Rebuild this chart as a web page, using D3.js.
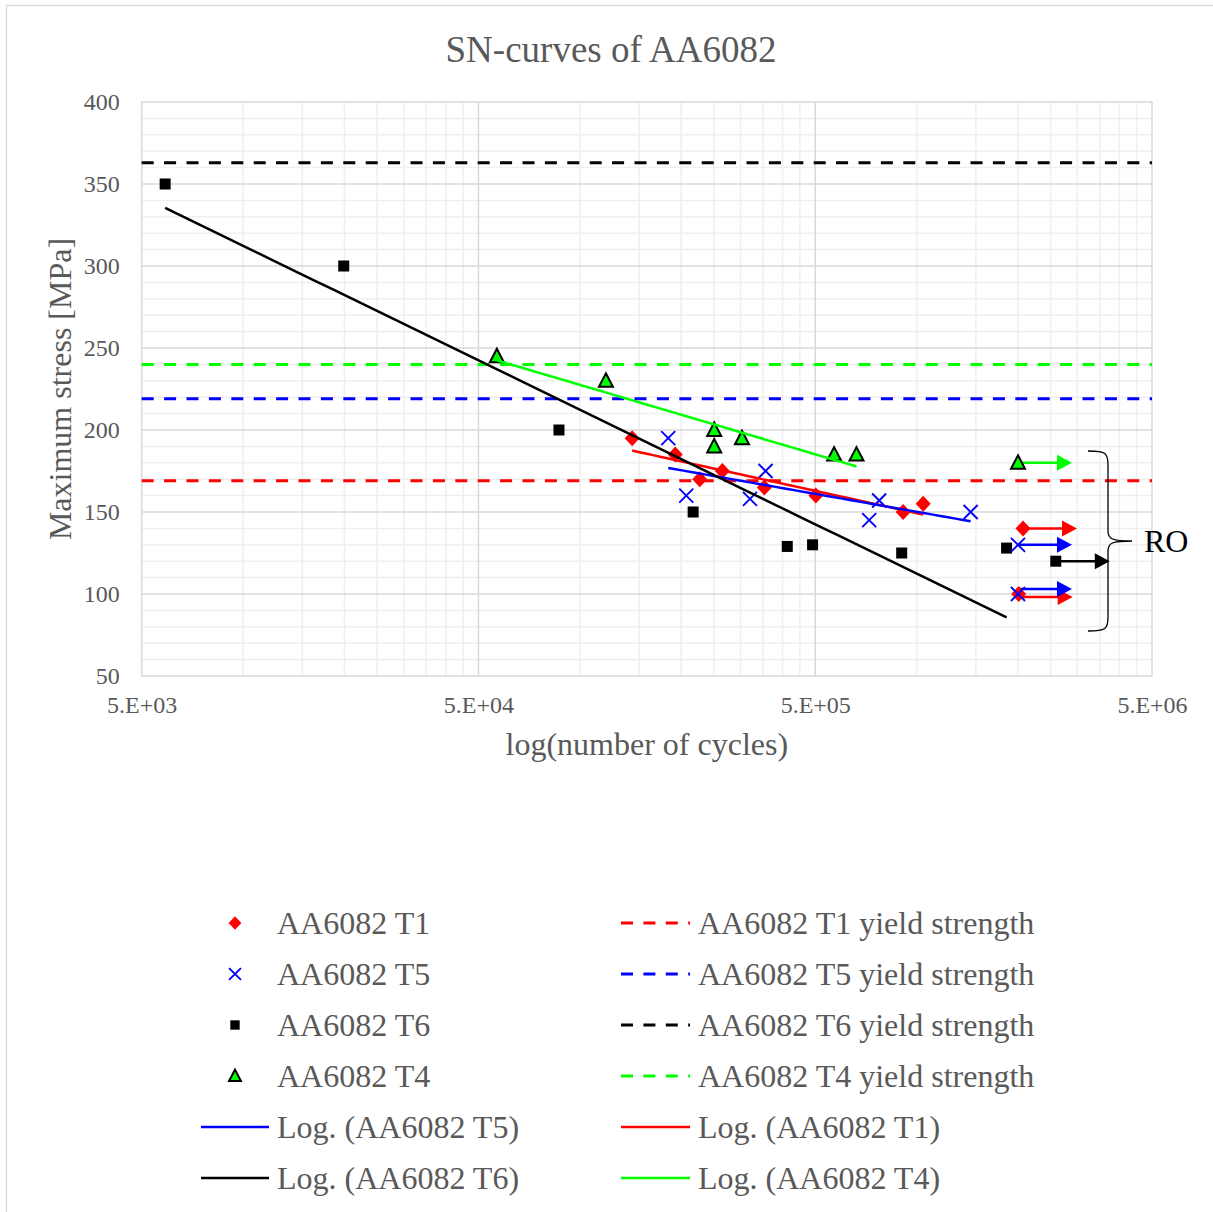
<!DOCTYPE html>
<html>
<head>
<meta charset="utf-8">
<script src="https://cdn.jsdelivr.net/npm/d3@7"></script>
<style>
  body { margin: 0; background: #fff; }
  svg { display: block; }
</style>
</head>
<body>
<script>
// Fatigue results: cycles to failure and maximum stress [MPa]
const t1Cycles = [143000, 192000, 227000, 265000, 353000, 502000, 912000, 1046000];
const t1Stress = [195, 185, 170, 175, 165, 160, 150, 155];
const t5Cycles = [183000, 207000, 320000, 356000, 723000, 774000, 1447000];
const t5Stress = [195, 160, 158, 175, 145, 157, 150];
const t6Cycles = [5870, 19900, 86700, 217000, 413000, 491000, 903000, 1850000];
const t6Stress = [350, 300, 200, 150, 129, 130, 125, 128];
const t4Cycles = [56700, 119500, 250600, 250600, 303000, 569000, 663000];
const t4Stress = [245, 230, 200, 190, 195, 185, 185];

// Run-outs (specimens that did not fail)
const t1RunOutCycles = [2070000, 2010000];
const t1RunOutStress = [140, 100];
const t5RunOutCycles = [2000000, 2000000];
const t5RunOutStress = [130, 100];
const t6RunOutCycles = [2590000];
const t6RunOutStress = [120];
const t4RunOutCycles = [2000000];
const t4RunOutStress = [180];

// Yield strength per temper [MPa]
const tempers = ["T1", "T5", "T6", "T4"];
const yieldStrengths = [169, 219, 363, 240];

// Axis ticks
const xTickValues = [5e3, 5e4, 5e5, 5e6];
const xTickLabels = ["5.E+03", "5.E+04", "5.E+05", "5.E+06"];
const yTickValues = [50, 100, 150, 200, 250, 300, 350, 400];
const runOutLabel = "RO";

const W = 1213, H = 1212;
const FONT = "'Liberation Serif', 'Times New Roman', serif";
const TEXT = "#595959";

const colors = { T1: "#ff0000", T5: "#0000ff", T6: "#000000", T4: "#00ff00" };
const symbols = { T1: "diamond", T5: "cross", T6: "square", T4: "triangle" };
const series = {
  T1: { cycles: t1Cycles, stress: t1Stress, roCycles: t1RunOutCycles, roStress: t1RunOutStress },
  T5: { cycles: t5Cycles, stress: t5Stress, roCycles: t5RunOutCycles, roStress: t5RunOutStress },
  T6: { cycles: t6Cycles, stress: t6Stress, roCycles: t6RunOutCycles, roStress: t6RunOutStress },
  T4: { cycles: t4Cycles, stress: t4Stress, roCycles: t4RunOutCycles, roStress: t4RunOutStress }
};

const plot = { left: 141.7, right: 1152, top: 102, bottom: 676 };
const x = d3.scaleLog().domain([xTickValues[0], xTickValues[xTickValues.length - 1]])
  .range([plot.left, plot.right]);
const y = d3.scaleLinear().domain([yTickValues[0], yTickValues[yTickValues.length - 1]])
  .range([plot.bottom, plot.top]);

const svg = d3.select("body").append("svg").attr("width", W).attr("height", H)
  .style("font-family", FONT);

// chart frame
svg.append("rect").attr("x", 6.5).attr("y", 5.5).attr("width", W + 20).attr("height", H + 20)
  .attr("fill", "#fff").attr("stroke", "#d9d9d9").attr("stroke-width", 1.3);

// title
svg.append("text").attr("x", 611).attr("y", 62).attr("text-anchor", "middle")
  .attr("font-size", 37).attr("fill", TEXT).text("SN-curves of AA6082");

// ---- gridlines ----
const grid = svg.append("g");
const minorX = [];
for (let i = 0; i < xTickValues.length - 1; i++) {
  for (let k = 2; k <= 9; k++) minorX.push(xTickValues[i] * k);
}
const minorY = d3.range(yTickValues[0], yTickValues[yTickValues.length - 1], 10)
  .filter(v => v % 50 !== 0);
grid.selectAll(".mx").data(minorX).join("line")
  .attr("x1", d => x(d)).attr("x2", d => x(d)).attr("y1", plot.top).attr("y2", plot.bottom)
  .attr("stroke", "#efefef").attr("stroke-width", 1.5);
grid.selectAll(".my").data(minorY).join("line")
  .attr("x1", plot.left).attr("x2", plot.right).attr("y1", d => y(d)).attr("y2", d => y(d))
  .attr("stroke", "#efefef").attr("stroke-width", 1.5);
grid.selectAll(".Mx").data(xTickValues).join("line")
  .attr("x1", d => x(d)).attr("x2", d => x(d)).attr("y1", plot.top).attr("y2", plot.bottom)
  .attr("stroke", "#d9d9d9").attr("stroke-width", 1.5);
grid.selectAll(".My").data(yTickValues).join("line")
  .attr("x1", plot.left).attr("x2", plot.right).attr("y1", d => y(d)).attr("y2", d => y(d))
  .attr("stroke", "#d9d9d9").attr("stroke-width", 1.5);

// ---- axes ----
const xAxis = svg.append("g").attr("transform", `translate(0,${plot.bottom})`)
  .call(d3.axisBottom(x).tickValues(xTickValues)
    .tickFormat((d, i) => xTickLabels[i]).tickSize(0).tickPadding(20));
const yAxis = svg.append("g").attr("transform", `translate(${plot.left},0)`)
  .call(d3.axisLeft(y).tickValues(yTickValues).tickSize(0).tickPadding(22));
[xAxis, yAxis].forEach(a => {
  a.select(".domain").remove();
  a.selectAll("text").attr("font-family", FONT).attr("font-size", 24).attr("fill", TEXT);
});

svg.append("text").attr("x", (plot.left + plot.right) / 2).attr("y", 755)
  .attr("text-anchor", "middle").attr("font-size", 32).attr("fill", TEXT)
  .text("log(number of cycles)");
svg.append("text").attr("transform", `translate(71,${(plot.top + plot.bottom) / 2}) rotate(-90)`)
  .attr("text-anchor", "middle").attr("font-size", 32).attr("fill", TEXT)
  .text("Maximum stress [MPa]");

// ---- yield strength lines ----
const DASH = "12,10.4";
const yieldG = svg.append("g");
tempers.forEach((t, i) => {
  yieldG.append("line")
    .attr("x1", x(xTickValues[0])).attr("x2", x(xTickValues[xTickValues.length - 1]))
    .attr("y1", y(yieldStrengths[i])).attr("y2", y(yieldStrengths[i]))
    .attr("stroke", colors[t]).attr("stroke-width", 3).attr("stroke-dasharray", DASH);
});

// ---- markers ----
function drawMarker(g, t, cx, cy, s = 1) {
  const c = colors[t];
  switch (symbols[t]) {
    case "diamond":
      g.append("path").attr("d", `M${cx},${cy - 8 * s}L${cx + 7.5 * s},${cy}L${cx},${cy + 8 * s}L${cx - 7.5 * s},${cy}Z`)
        .attr("fill", c);
      break;
    case "cross":
      g.append("path").attr("d",
        `M${cx - 7 * s},${cy - 7 * s}L${cx + 7 * s},${cy + 7 * s}M${cx - 7 * s},${cy + 7 * s}L${cx + 7 * s},${cy - 7 * s}`)
        .attr("stroke", c).attr("stroke-width", 1.9).attr("fill", "none");
      break;
    case "square":
      g.append("rect").attr("x", cx - 5.5 * s).attr("y", cy - 5.5 * s)
        .attr("width", 11 * s).attr("height", 11 * s).attr("fill", c);
      break;
    case "triangle":
      g.append("path").attr("d", `M${cx},${cy - 7.5 * s}L${cx + 7 * s},${cy + 6 * s}L${cx - 7 * s},${cy + 6 * s}Z`)
        .attr("fill", c).attr("stroke", "#000").attr("stroke-width", 2).attr("stroke-linejoin", "miter");
      break;
  }
}

// ---- run-out arrows ----
const arrowG = svg.append("g");
const ARROW_LEN = 54, HEAD_LEN = 15, HEAD_HALF = 8;
const roAll = [];
tempers.forEach(t => {
  series[t].roCycles.forEach((c, i) => roAll.push({ t, c, s: series[t].roStress[i] }));
});
roAll.forEach(r => {
  // arrows sharing a stress level are pulled apart slightly
  const same = roAll.filter(o => o.s === r.s);
  const idx = same.indexOf(r);
  const nudge = same.length > 1 ? (idx === 0 ? 3 : -5) : 0;
  const x0 = x(r.c), yy = y(r.s) + nudge, tip = x0 + ARROW_LEN;
  arrowG.append("line").attr("x1", x0).attr("x2", tip - HEAD_LEN + 1).attr("y1", yy).attr("y2", yy)
    .attr("stroke", colors[r.t]).attr("stroke-width", 2.5);
  arrowG.append("path")
    .attr("d", `M${tip},${yy}L${tip - HEAD_LEN},${yy - HEAD_HALF}L${tip - HEAD_LEN},${yy + HEAD_HALF}Z`)
    .attr("fill", colors[r.t]);
});

const markG = svg.append("g");
["T6", "T1", "T5", "T4"].forEach(t => {
  series[t].cycles.forEach((c, i) => drawMarker(markG, t, x(c), y(series[t].stress[i])));
});
roAll.forEach(r => drawMarker(markG, r.t, x(r.c), y(r.s)));

// ---- logarithmic trendlines: stress = a * ln(N) + b ----
function logFit(cycles, stress) {
  const lx = cycles.map(Math.log);
  const mx = d3.mean(lx), my = d3.mean(stress);
  let sxy = 0, sxx = 0;
  lx.forEach((v, i) => { sxy += (v - mx) * (stress[i] - my); sxx += (v - mx) * (v - mx); });
  const a = sxy / sxx;
  return { a, b: my - a * mx };
}
const trendG = svg.append("g");
tempers.forEach(t => {
  const { cycles, stress } = series[t];
  const f = logFit(cycles, stress);
  const ext = d3.extent(cycles);
  const pts = d3.range(0, 41).map(i => {
    const n = Math.exp(Math.log(ext[0]) + (Math.log(ext[1]) - Math.log(ext[0])) * i / 40);
    return [n, f.a * Math.log(n) + f.b];
  });
  trendG.append("path").datum(pts)
    .attr("d", d3.line().x(d => x(d[0])).y(d => y(d[1])))
    .attr("fill", "none").attr("stroke", colors[t]).attr("stroke-width", 2.5);
});

// ---- run-out bracket ----
const bx = 1108, bTop = 451, bBot = 631, bMid = 541;
svg.append("path")
  .attr("d", `M${bx - 20},${bTop} C${bx - 2},${bTop} ${bx},${bTop + 2} ${bx},${bTop + 14}
              L${bx},${bMid - 10} C${bx},${bMid - 2} ${bx + 4},${bMid} ${bx + 24},${bMid}
              C${bx + 4},${bMid} ${bx},${bMid + 2} ${bx},${bMid + 10}
              L${bx},${bBot - 14} C${bx},${bBot - 2} ${bx - 2},${bBot} ${bx - 20},${bBot}`)
  .attr("fill", "none").attr("stroke", "#000").attr("stroke-width", 1.3);
svg.append("text").attr("x", 1144).attr("y", bMid + 11).attr("font-size", 32)
  .attr("fill", "#000").text(runOutLabel);

// ---- legend ----
const legend = svg.append("g");
const rowY = i => 923 + i * 51;
const leftCol = { lineX1: 201, lineX2: 269, markX: 235, textX: 277 };
const rightCol = { lineX1: 621, lineX2: 690, textX: 698 };
const legendRows = [
  [{ kind: "marker", t: "T1", label: "AA6082 T1" }, { kind: "dash", t: "T1", label: "AA6082 T1 yield strength" }],
  [{ kind: "marker", t: "T5", label: "AA6082 T5" }, { kind: "dash", t: "T5", label: "AA6082 T5 yield strength" }],
  [{ kind: "marker", t: "T6", label: "AA6082 T6" }, { kind: "dash", t: "T6", label: "AA6082 T6 yield strength" }],
  [{ kind: "marker", t: "T4", label: "AA6082 T4" }, { kind: "dash", t: "T4", label: "AA6082 T4 yield strength" }],
  [{ kind: "line", t: "T5", label: "Log. (AA6082 T5)" }, { kind: "line", t: "T1", label: "Log. (AA6082 T1)" }],
  [{ kind: "line", t: "T6", label: "Log. (AA6082 T6)" }, { kind: "line", t: "T4", label: "Log. (AA6082 T4)" }]
];
legendRows.forEach((row, i) => {
  const cy = rowY(i);
  row.forEach((e, j) => {
    const col = j === 0 ? leftCol : rightCol;
    if (e.kind === "marker") {
      drawMarker(legend, e.t, col.markX, cy, 0.85);
    } else {
      legend.append("line").attr("x1", col.lineX1).attr("x2", col.lineX2).attr("y1", cy).attr("y2", cy)
        .attr("stroke", colors[e.t]).attr("stroke-width", e.kind === "dash" ? 3 : 2.5)
        .attr("stroke-dasharray", e.kind === "dash" ? DASH : null);
    }
    legend.append("text").attr("x", col.textX).attr("y", cy).attr("dy", "0.34em")
      .attr("font-size", 32).attr("fill", TEXT).text(e.label);
  });
});
</script>
</body>
</html>
